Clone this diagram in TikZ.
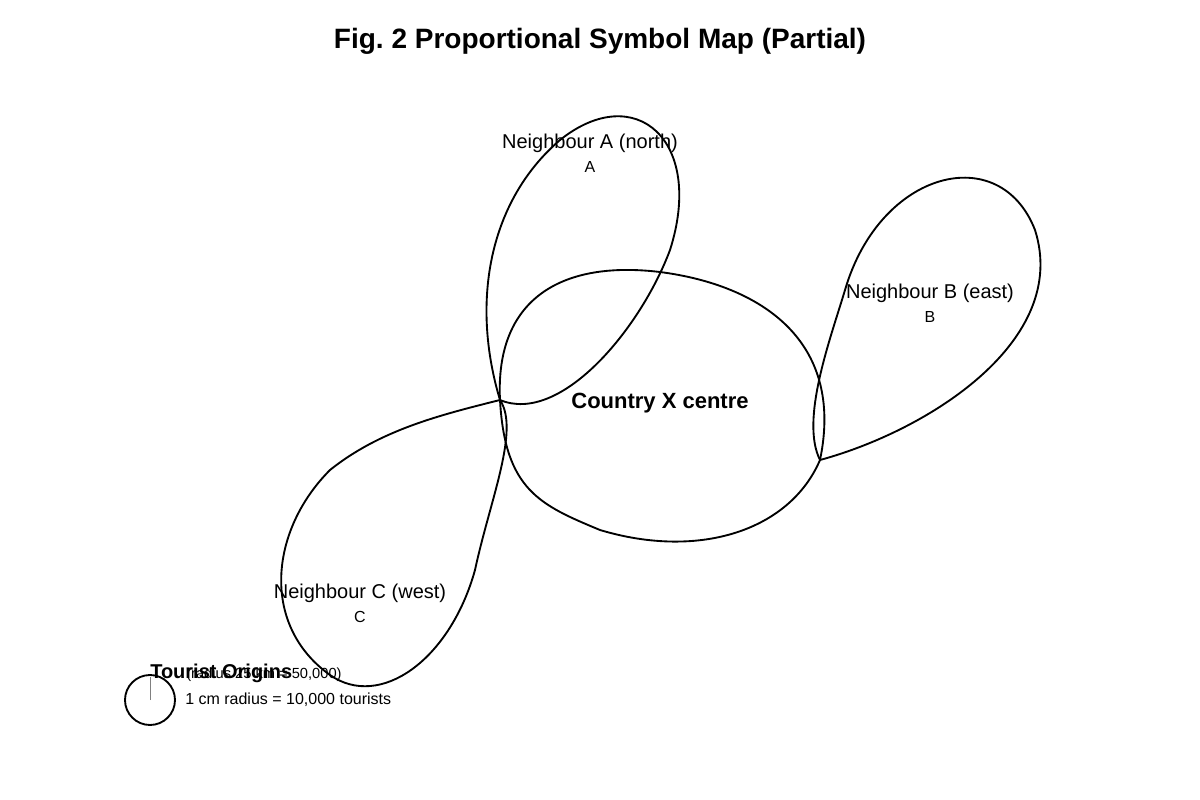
\documentclass[tikz,border=0pt]{standalone}
\usepackage{fontspec}
\setmainfont{Liberation Sans}
\usetikzlibrary{positioning}
\begin{document}
\begin{tikzpicture}[x=0.75pt,y=-0.75pt,
  outline/.style={line width=1.4pt},
  lbl/.style={font=\fontsize{15}{17}\selectfont},
  sub/.style={font=\fontsize{12}{14}\selectfont}]
\useasboundingbox (0,0) rectangle (1200,800);
\node[font=\bfseries\fontsize{21}{25}\selectfont] (title) at (600,41) {Fig.~2 Proportional Symbol Map (Partial)};
% country X
\draw[outline] (500,400) .. controls (495,300) and (560,260) .. (660,272) .. controls (760,285) and (845,340) .. (820,460) .. controls (790,530) and (700,560) .. (600,530) .. controls (540,505) and (505,490) .. (500,400);
\node[font=\bfseries\fontsize{16.5}{19}\selectfont] (centre) at (660,403) {Country X centre};
% neighbour A
\draw[outline] (500,400) .. controls (470,300) and (490,200) .. (560,140) .. controls (635,80) and (705,140) .. (670,250) .. controls (640,330) and (560,425) .. (500,400);
\node[lbl] (nA) at (590,143) {Neighbour A (north)};
\node[sub,below=0pt of nA] (A) {A};
% neighbour B
\draw[outline] (820,460) .. controls (800,420) and (830,340) .. (845,290) .. controls (880,170) and (1000,140) .. (1035,230) .. controls (1070,340) and (930,430) .. (820,460);
\node[lbl] (nB) at (930,293) {Neighbour B (east)};
\node[sub,below=0pt of nB] (B) {B};
% neighbour C
\draw[outline] (500,400) .. controls (520,430) and (490,500) .. (475,570) .. controls (450,660) and (380,710) .. (330,675) .. controls (260,625) and (270,530) .. (330,470) .. controls (380,430) and (440,415) .. (500,400);
\node[lbl] (nC) at (360,593) {Neighbour C (west)};
\node[sub,below=0pt of nC] (C) {C};
% legend
\node[draw,outline,circle,minimum size=37.5pt,inner sep=0pt] (key) at (150,700) {};
\draw[gray] (key.center) -- (150,677);
\node[font=\fontsize{11}{13}\selectfont,anchor=west,inner sep=0pt] (r) at (186,675) {(radius 25 km = 50,000)};
\node[font=\bfseries\fontsize{15}{18}\selectfont,anchor=west,inner sep=0pt] (keyt) at (150,673) {Tourist Origins};
\node[sub,anchor=west,inner sep=0pt] (scale) at (185,700) {1 cm radius = 10,000 tourists};
\end{tikzpicture}
\end{document}
